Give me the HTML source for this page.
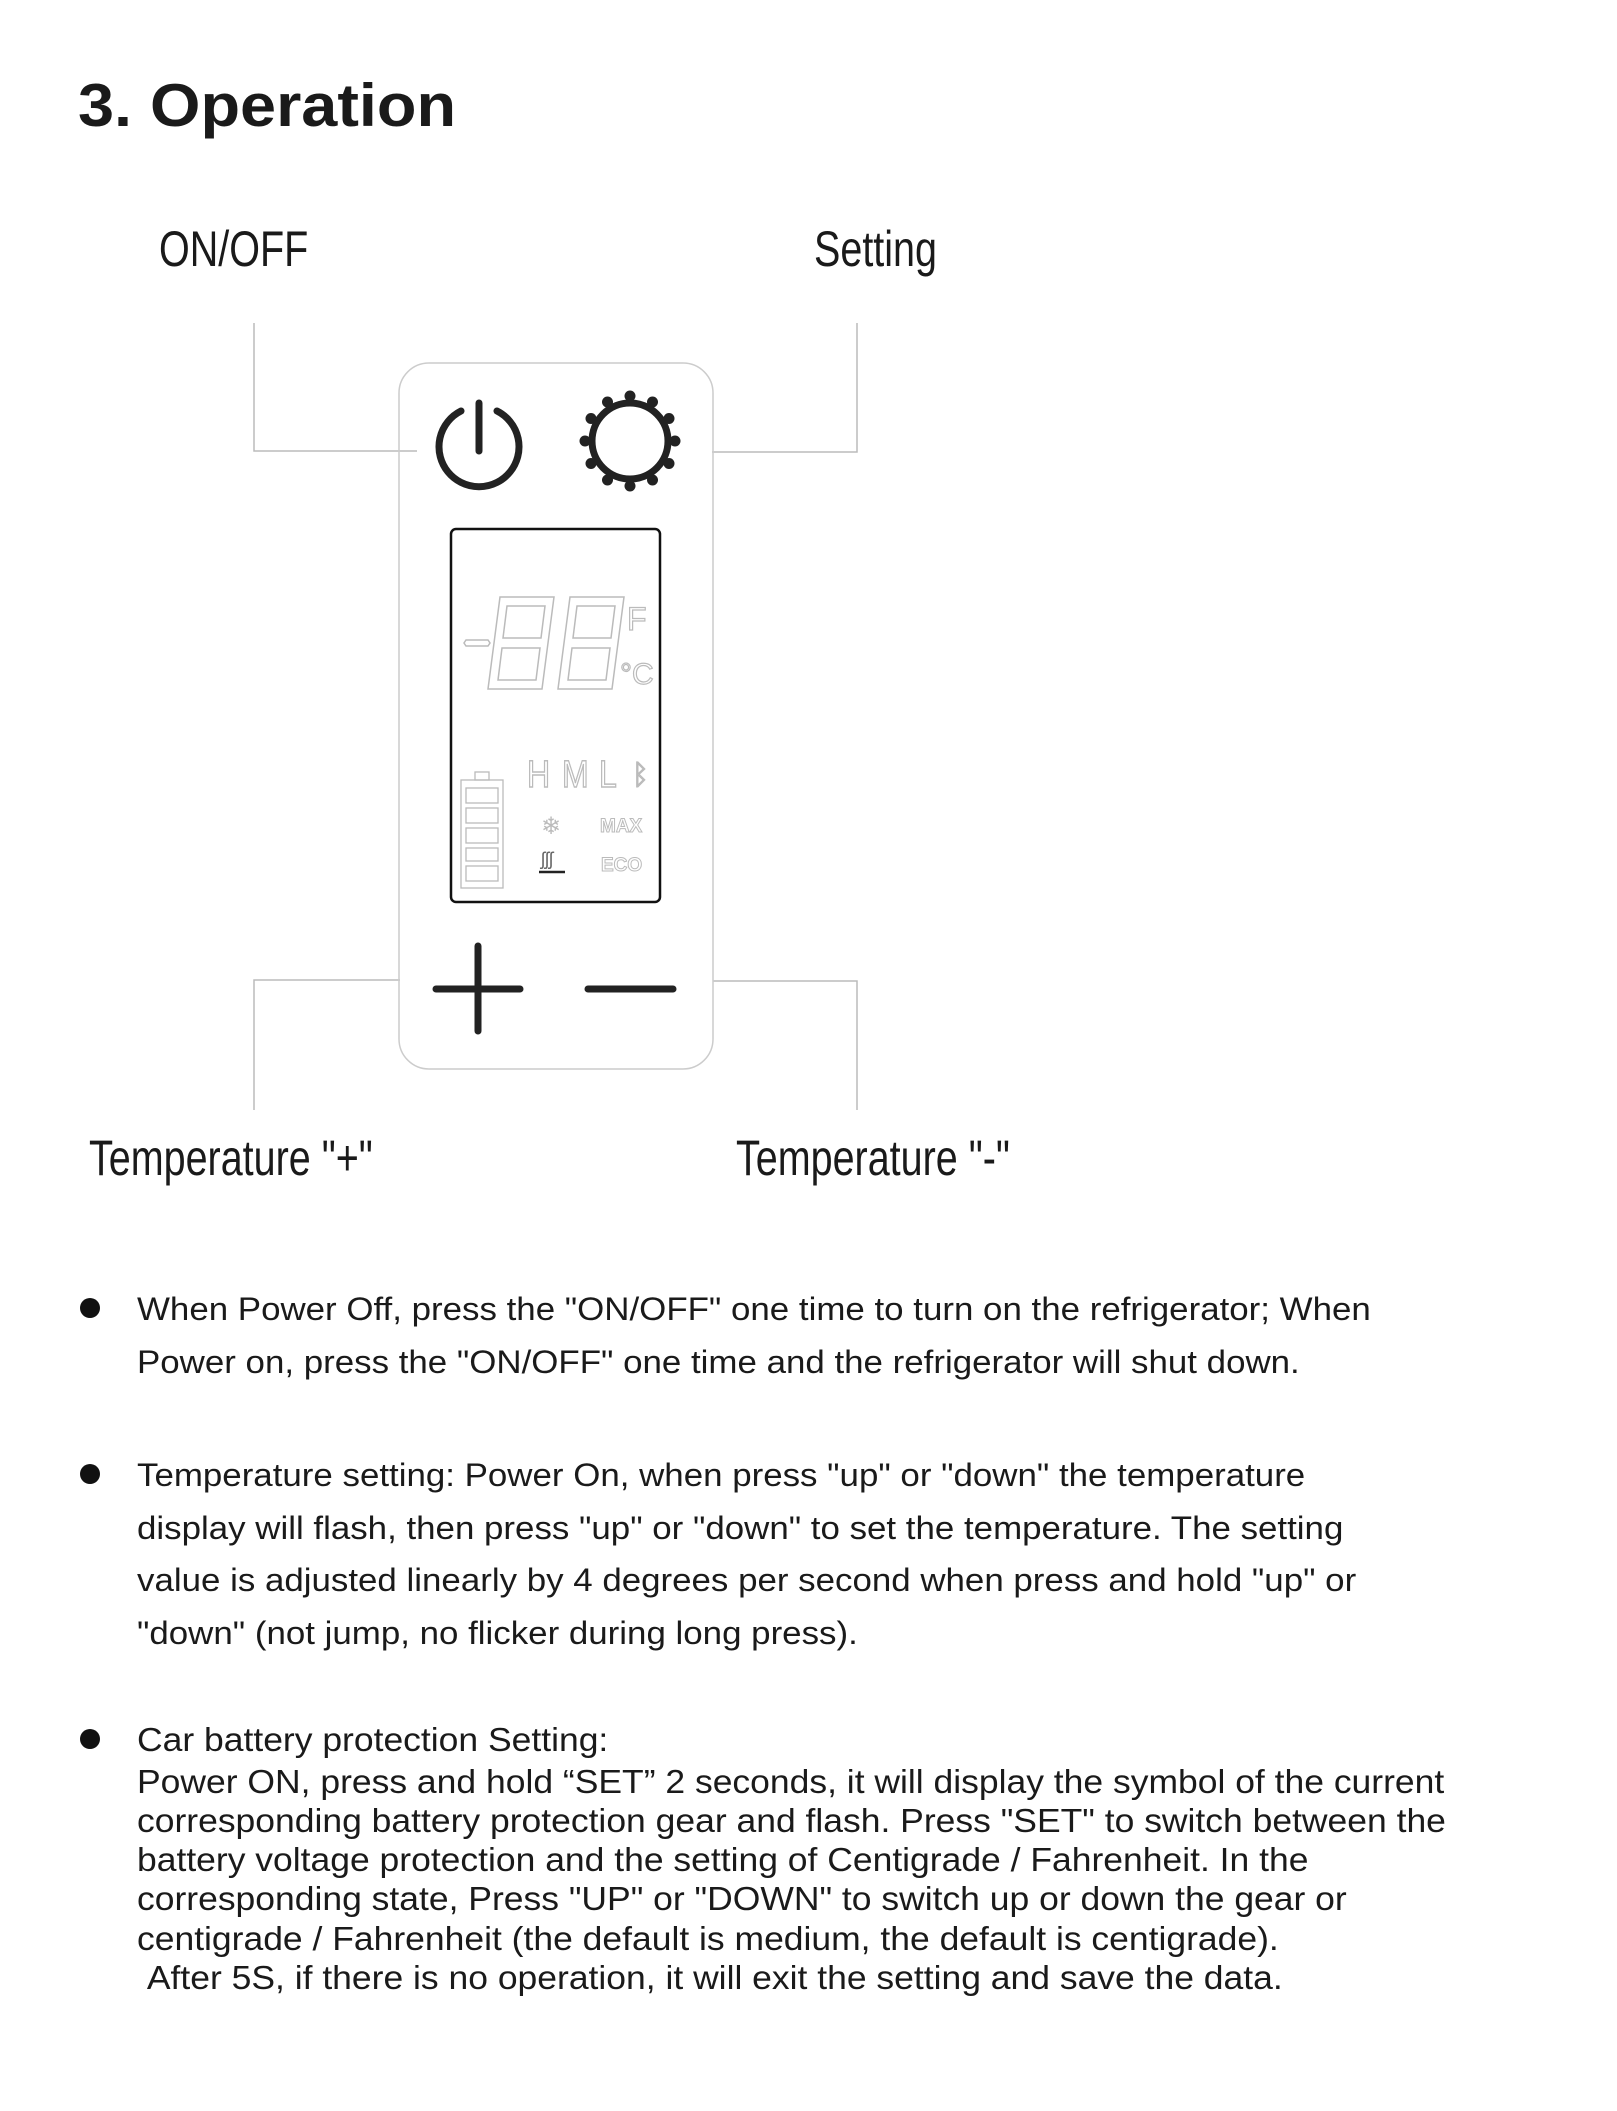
<!DOCTYPE html>
<html><head><meta charset="utf-8"><style>
html,body{margin:0;padding:0;background:#fff}
body{width:1617px;height:2111px;position:relative;overflow:hidden;font-family:"Liberation Sans",Arial,sans-serif;color:#1a1a1a}
.t{position:absolute;white-space:nowrap;line-height:1}
.lbl{font-family:"Liberation Sans",sans-serif;font-size:50px;transform:scaleX(0.79);transform-origin:0 0}
.p{font-size:32px;left:137px;transform:scaleX(1.09);transform-origin:0 0}
.q{font-size:33px;left:137px;transform:scaleX(1.075);transform-origin:0 0}
.b{position:absolute;left:80px;width:20px;height:20px;border-radius:50%;background:#111}
</style></head><body>
<div class="t" style="left:78px;top:76px;font-size:60px;font-weight:bold;transform:scaleX(1.08);transform-origin:0 0">3. Operation</div>
<div class="t lbl" style="left:159px;top:224px">ON/OFF</div>
<div class="t lbl" style="left:814px;top:224px">Setting</div>
<div class="t lbl" style="left:89px;top:1133px">Temperature "+"</div>
<div class="t lbl" style="left:736px;top:1133px">Temperature "-"</div>

<svg style="position:absolute;left:0;top:0" width="1617" height="1200">
<g stroke="#bbb" stroke-width="1.5" fill="none">
<polyline points="254,323 254,451 417,451"/>
<polyline points="857,323 857,452 712,452"/>
<polyline points="400,980 254,980 254,1110"/>
<polyline points="713,981 857,981 857,1110"/>
</g>
<rect x="399" y="363" width="314" height="706" rx="30" fill="none" stroke="#ccc" stroke-width="1.5"/>
<!-- power -->
<g stroke="#222" stroke-width="7" fill="none" stroke-linecap="round">
<path d="M461,411 A40,40 0 1 0 497,411"/>
<line x1="479" y1="403" x2="479" y2="451"/>
</g>
<!-- gear -->
<g fill="#222" transform="translate(630,441)">
<circle cx="0" cy="0" r="38" fill="none" stroke="#222" stroke-width="7"/>
<g>
<circle cx="0" cy="-45" r="5.5"/><circle cx="0" cy="45" r="5.5"/>
<circle cx="-45" cy="0" r="5.5"/><circle cx="45" cy="0" r="5.5"/>
<circle cx="22.5" cy="-39" r="5.5"/><circle cx="-22.5" cy="39" r="5.5"/>
<circle cx="-22.5" cy="-39" r="5.5"/><circle cx="22.5" cy="39" r="5.5"/>
<circle cx="39" cy="-22.5" r="5.5"/><circle cx="-39" cy="22.5" r="5.5"/>
<circle cx="-39" cy="-22.5" r="5.5"/><circle cx="39" cy="22.5" r="5.5"/>
</g>
</g>
<!-- LCD -->
<rect x="451" y="529" width="209" height="373" rx="5" fill="none" stroke="#111" stroke-width="2.5"/>
<g stroke="#bbb" stroke-width="1.5" fill="none">
<path d="M466,640 h22 l2,3 l-2,3 h-22 l-2,-3 z"/>
<path d="M500,597 h54 l-12,92 h-54 z M507,606 h38 l-4,32 h-38 z M502,648 h38 l-4,32 h-38 z"/>
<path d="M570,597 h54 l-12,92 h-54 z M577,606 h38 l-4,32 h-38 z M572,648 h38 l-4,32 h-38 z"/>
</g>
<text x="627" y="630" font-family="Liberation Sans" font-size="32" fill="none" stroke="#bbb" stroke-width="1.2">F</text>
<text x="620" y="684" font-family="Liberation Sans" font-size="30" fill="none" stroke="#bbb" stroke-width="1.2">°C</text>
<g font-family="Liberation Sans" font-size="32" fill="none" stroke="#bbb" stroke-width="1.2" transform="translate(0,0)">
<text x="527" y="787" transform="scale(1,1.2) translate(0,-131)">H</text><text x="562" y="787" transform="scale(1,1.2) translate(0,-131)">M</text><text x="599" y="787" transform="scale(1,1.2) translate(0,-131)">L</text><text x="632" y="784" font-size="28">ᛒ</text>
</g>
<g fill="none" stroke="#bbb" stroke-width="1.3">
<rect x="461" y="780" width="42" height="108"/><rect x="475" y="772" width="14" height="8"/>
<rect x="466" y="788" width="32" height="15"/><rect x="466" y="808" width="32" height="15"/><rect x="466" y="828" width="32" height="15"/><rect x="466" y="848" width="32" height="13"/><rect x="466" y="866" width="32" height="15"/>
</g>
<text x="541" y="834" font-size="24" fill="#bbb">❄</text>
<text x="600" y="832" font-family="Liberation Sans" font-weight="bold" font-size="19" fill="none" stroke="#bbb">MAX</text>
<text x="601" y="871" font-family="Liberation Sans" font-weight="bold" font-size="19" fill="none" stroke="#bbb">ECO</text>
<text x="541" y="865" font-size="18" fill="#666">ʃʃʃ</text>
<line x1="539" y1="872" x2="565" y2="872" stroke="#222" stroke-width="2.5"/>
<!-- plus minus -->
<g stroke="#222" stroke-width="7" stroke-linecap="round">
<line x1="436" y1="989" x2="520" y2="989"/><line x1="478" y1="946" x2="478" y2="1031"/>
<line x1="588" y1="989" x2="673" y2="989"/>
</g>
</svg>

<div class="b" style="top:1298px"></div>
<div class="t p" style="top:1293px">When Power Off, press the "ON/OFF" one time to turn on the refrigerator; When</div>
<div class="t p" style="top:1346px">Power on, press the "ON/OFF" one time and the refrigerator will shut down.</div>
<div class="b" style="top:1464px"></div>
<div class="t p" style="top:1459px">Temperature setting: Power On, when press "up" or "down" the temperature</div>
<div class="t p" style="top:1512px">display will flash, then press "up" or "down" to set the temperature. The setting</div>
<div class="t p" style="top:1564px">value is adjusted linearly by 4 degrees per second when press and hold "up" or</div>
<div class="t p" style="top:1617px">"down" (not jump, no flicker during long press).</div>
<div class="b" style="top:1729px"></div>
<div class="t q" style="top:1723px">Car battery protection Setting:</div>
<div class="t q" style="top:1765px">Power ON, press and hold “SET” 2 seconds, it will display the symbol of the current</div>
<div class="t q" style="top:1804px">corresponding battery protection gear and flash. Press "SET" to switch between the</div>
<div class="t q" style="top:1843px">battery voltage protection and the setting of Centigrade / Fahrenheit. In the</div>
<div class="t q" style="top:1882px">corresponding state, Press "UP" or "DOWN" to switch up or down the gear or</div>
<div class="t q" style="top:1922px">centigrade / Fahrenheit (the default is medium, the default is centigrade).</div>
<div class="t q" style="top:1961px">&nbsp;After 5S, if there is no operation, it will exit the setting and save the data.</div>
</body></html>
